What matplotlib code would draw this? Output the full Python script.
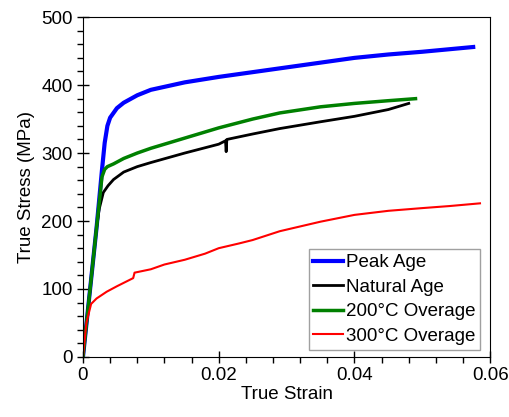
import matplotlib
matplotlib.use("Agg")
import matplotlib.pyplot as plt
from matplotlib.ticker import MultipleLocator

plt.rcParams['font.family'] = ['Liberation Sans', 'DejaVu Sans']

# Peak Age
peak_strain = [0, 0.0010, 0.0020, 0.0028, 0.0032, 0.0036, 0.0040, 0.0050, 0.0060, 0.0080,
               0.0100, 0.0150, 0.0200, 0.0250, 0.0300, 0.0350, 0.0400, 0.0450, 0.0500, 0.0575]
peak_stress = [0, 95, 190, 275, 315, 340, 352, 366, 374, 385,
               393, 404, 412, 419, 426, 433, 440, 445, 449, 456]

# Natural Age
nat_strain = [0, 0.0010, 0.0020, 0.0024, 0.0030, 0.0037, 0.0045, 0.0060, 0.0080, 0.0100,
              0.0150, 0.0200, 0.0210, 0.0211, 0.0212, 0.0250, 0.0290, 0.0350, 0.0400, 0.0450, 0.0480]
nat_stress = [0, 95, 190, 218, 242, 252, 261, 272, 280, 286,
              300, 313, 318, 302, 320, 328, 336, 346, 354, 364, 373]

# 200C Overage
ov200_strain = [0, 0.0010, 0.0020, 0.0028, 0.0032, 0.0036, 0.0045, 0.0060, 0.0080, 0.0100,
                0.0150, 0.0200, 0.0250, 0.0290, 0.0350, 0.0400, 0.0450, 0.0490]
ov200_stress = [0, 95, 190, 265, 276, 280, 284, 292, 300, 307,
                322, 337, 350, 359, 368, 373, 377, 380]

# 300C Overage
ov300_strain = [0, 0.0005, 0.0012, 0.0020, 0.0035, 0.0050, 0.0074, 0.0076, 0.0100, 0.0120,
                0.0150, 0.0180, 0.0200, 0.0230, 0.0250, 0.0290, 0.0320, 0.0350, 0.0400,
                0.0450, 0.0500, 0.0540, 0.0585]
ov300_stress = [0, 50, 78, 86, 96, 104, 116, 124, 129, 136,
                143, 152, 160, 167, 172, 185, 192, 199, 209,
                215, 219, 222, 226]

fs = 13.5

fig = plt.figure(figsize=(5.09, 4.17), dpi=100)
ax = fig.add_axes([0.163, 0.144, 0.800, 0.815])

ax.plot(peak_strain, peak_stress, color='#0000ff', lw=3, label='Peak Age')
ax.plot(nat_strain, nat_stress, color='black', lw=2, label='Natural Age')
ax.plot(ov200_strain, ov200_stress, color='#008000', lw=2.5, label='200°C Overage')
ax.plot(ov300_strain, ov300_stress, color='#ff0000', lw=1.5, label='300°C Overage')

ax.set_xlim(0, 0.06)
ax.set_ylim(0, 500)
ax.xaxis.set_major_locator(MultipleLocator(0.02))
ax.xaxis.set_minor_locator(MultipleLocator(0.004))
ax.yaxis.set_major_locator(MultipleLocator(100))
ax.yaxis.set_minor_locator(MultipleLocator(20))
ax.xaxis.set_major_formatter(plt.FuncFormatter(lambda v, p: '0' if v == 0 else f'{v:g}'))
ax.tick_params(which='major', direction='inout', length=8, width=1, labelsize=fs)
ax.tick_params(which='minor', direction='out', length=4, width=1)
ax.set_xlabel('True Strain', fontsize=fs, labelpad=1)
ax.set_ylabel('True Stress (MPa)', fontsize=fs, labelpad=4)

leg = ax.legend(loc='lower right', fontsize=fs, handlelength=1.6, handletextpad=0.15,
                labelspacing=0.4, borderpad=0.25, borderaxespad=0.3, fancybox=False,
                framealpha=1, edgecolor='#a0a0a0', bbox_to_anchor=(0.99, 0.005))
leg.get_frame().set_linewidth(1)

fig.savefig('out.png', dpi=100)
